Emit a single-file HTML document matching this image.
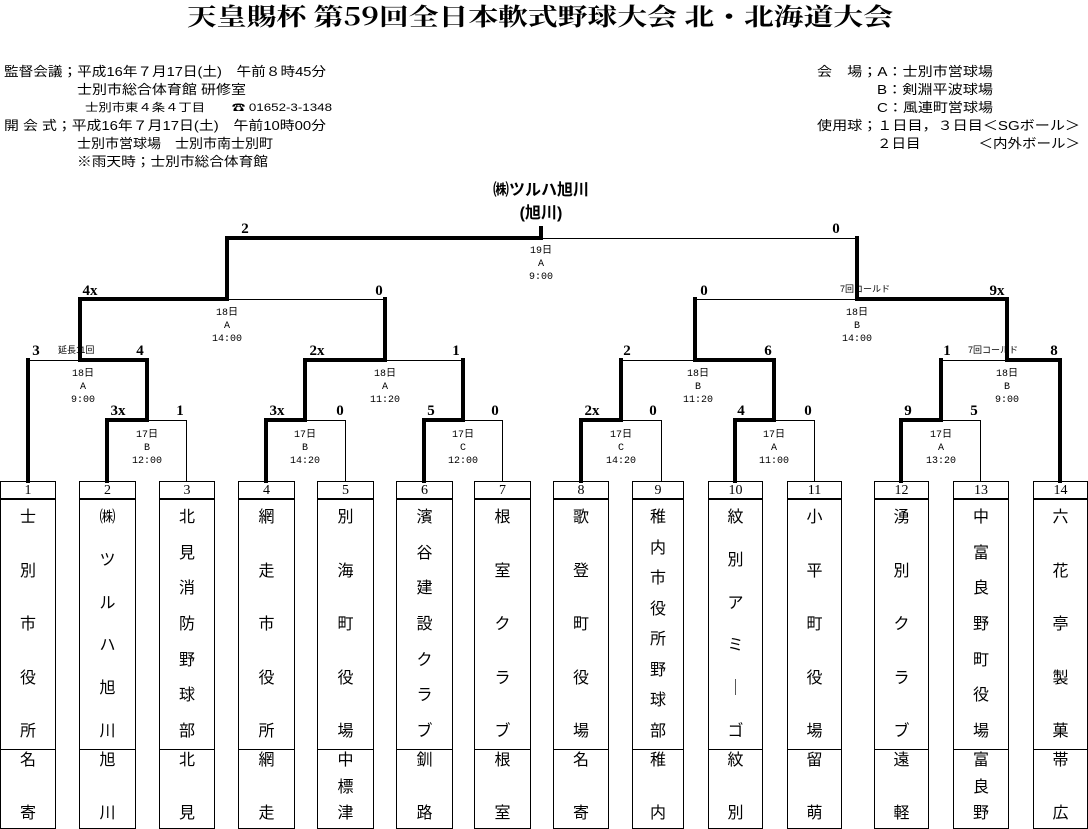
<!DOCTYPE html>
<html><head><meta charset="utf-8"><style>
html,body{margin:0;padding:0;background:#fff;}
body{width:1088px;height:829px;position:relative;overflow:hidden;font-family:"Liberation Sans","Noto Sans CJK JP",sans-serif;color:#000;}
svg{position:absolute;left:0;top:0;}
.col{position:absolute;border:1px solid #000;box-sizing:border-box;display:flex;flex-direction:column;justify-content:space-between;align-items:center;font-family:"Liberation Serif","Noto Sans CJK JP",sans-serif;font-size:16px;line-height:18px;}
.num{position:absolute;border:1px solid #000;box-sizing:border-box;text-align:center;font-family:"Liberation Serif","Noto Sans CJK JP",serif;font-size:14px;line-height:17px;height:19px;top:481px;}
.nm{top:498px;height:252px;padding:10px 0 8px;}
.bt{top:749px;height:80px;padding:2px 0 5px;}
</style></head><body>
<svg width="1088" height="829" xmlns="http://www.w3.org/2000/svg">
<g font-family="'Noto Serif CJK JP','Noto Sans CJK JP',serif" font-weight="bold">
<text x="187" y="25" font-size="24" textLength="706" lengthAdjust="spacingAndGlyphs">天皇賜杯 第59回全日本軟式野球大会 北・北海道大会</text>
</g>
<g font-family="'Liberation Sans','Noto Sans CJK JP',sans-serif" font-size="13">
<text x="4" y="76" textLength="322" lengthAdjust="spacingAndGlyphs">監督会議；平成16年７月17日(土)　午前８時45分</text>
<text x="77" y="94" textLength="169" lengthAdjust="spacingAndGlyphs">士別市総合体育館 研修室</text>
<text x="85" y="111" font-size="11" textLength="247" lengthAdjust="spacingAndGlyphs">士別市東４条４丁目　　☎ 01652-3-1348</text>
<text x="4" y="130" textLength="322" lengthAdjust="spacingAndGlyphs">開 会 式；平成16年７月17日(土)　午前10時00分</text>
<text x="77" y="148" textLength="196" lengthAdjust="spacingAndGlyphs">士別市営球場　士別市南士別町</text>
<text x="77" y="166" textLength="191" lengthAdjust="spacingAndGlyphs">※雨天時；士別市総合体育館</text>
<text x="817" y="76" textLength="176" lengthAdjust="spacingAndGlyphs">会　場；A：士別市営球場</text>
<text x="877" y="94" textLength="116" lengthAdjust="spacingAndGlyphs">B：剣淵平波球場</text>
<text x="877" y="112" textLength="116" lengthAdjust="spacingAndGlyphs">C：風連町営球場</text>
<text x="817" y="130" textLength="263" lengthAdjust="spacingAndGlyphs">使用球；１日目，３日目＜SGボール＞</text>
<text x="877" y="148" textLength="203" lengthAdjust="spacingAndGlyphs">２日目　　　　＜内外ボール＞</text>
</g>
<g font-family="'Liberation Sans','Noto Sans CJK JP',sans-serif" font-size="16" font-weight="bold" text-anchor="middle">
<text x="541" y="195">㈱ツルハ旭川</text>
<text x="541" y="218">(旭川)</text>
</g>
<g stroke="#000" stroke-width="1" fill="none" shape-rendering="crispEdges" transform="translate(0.5,0.5)">
<path d="M28 360H80 M147 420H186V481 M227 299H385 M305 420H345V481 M385 360H463 M463 420H502V481 M541 238H857 M621 420H661V481 M621 360H695 M695 299H856 M774 420H814V481 M941 360H1007 M941 420H980V481"/>
</g>
<g stroke="#000" stroke-width="4" fill="none" stroke-linecap="square" shape-rendering="crispEdges">
<path d="M28 360V481 M80 299V360H147V420H107V481"/>
<path d="M80 299H227V238H541V228 M227 238V299"/>
<path d="M385 299V360H305V420H266V481 M463 360V420H424V481"/>
<path d="M857 238V299H1007V360H1060V481"/>
<path d="M695 299V360H774V420H735V481 M621 360V420H581V481"/>
<path d="M941 360V420H901V481"/>
</g>
<g font-family="'Liberation Serif',serif" font-size="15" font-weight="bold" text-anchor="middle">
<text x="245" y="233">2</text><text x="836" y="233">0</text>
<text x="90" y="295">4x</text><text x="379" y="295">0</text>
<text x="704" y="295">0</text><text x="997" y="295">9x</text>
<text x="36" y="355">3</text><text x="140" y="355">4</text>
<text x="317" y="355">2x</text><text x="456" y="355">1</text>
<text x="627" y="355">2</text><text x="768" y="355">6</text>
<text x="947" y="355">1</text><text x="1054" y="355">8</text>
<text x="118" y="415">3x</text><text x="180" y="415">1</text>
<text x="277" y="415">3x</text><text x="340" y="415">0</text>
<text x="431" y="415">5</text><text x="495" y="415">0</text>
<text x="592" y="415">2x</text><text x="653" y="415">0</text>
<text x="741" y="415">4</text><text x="808" y="415">0</text>
<text x="908" y="415">9</text><text x="974" y="415">5</text>
</g>
<g font-family="'Liberation Sans','Noto Sans CJK JP',sans-serif" font-size="9">
<text x="58" y="353">延長11回</text>
<text x="840" y="292">7回コールド</text>
<text x="968" y="353">7回コールド</text>
</g>
<g font-family="'Liberation Mono','Noto Sans CJK JP',monospace" font-size="10" text-anchor="middle">
<text x="541" y="253">19日</text><text x="541" y="266">A</text><text x="541" y="279">9:00</text>
<text x="227" y="315">18日</text><text x="227" y="328">A</text><text x="227" y="341">14:00</text>
<text x="857" y="315">18日</text><text x="857" y="328">B</text><text x="857" y="341">14:00</text>
<text x="83" y="376">18日</text><text x="83" y="389">A</text><text x="83" y="402">9:00</text>
<text x="385" y="376">18日</text><text x="385" y="389">A</text><text x="385" y="402">11:20</text>
<text x="698" y="376">18日</text><text x="698" y="389">B</text><text x="698" y="402">11:20</text>
<text x="1007" y="376">18日</text><text x="1007" y="389">B</text><text x="1007" y="402">9:00</text>
<text x="147" y="437">17日</text><text x="147" y="450">B</text><text x="147" y="463">12:00</text>
<text x="305" y="437">17日</text><text x="305" y="450">B</text><text x="305" y="463">14:20</text>
<text x="463" y="437">17日</text><text x="463" y="450">C</text><text x="463" y="463">12:00</text>
<text x="621" y="437">17日</text><text x="621" y="450">C</text><text x="621" y="463">14:20</text>
<text x="774" y="437">17日</text><text x="774" y="450">A</text><text x="774" y="463">11:00</text>
<text x="941" y="437">17日</text><text x="941" y="450">A</text><text x="941" y="463">13:20</text>
</g>
</svg>

<div class="num" style="left:0;width:56px">1</div>
<div class="col nm" style="left:0;width:56px"><span>士</span><span>別</span><span>市</span><span>役</span><span>所</span></div>
<div class="col bt" style="left:0;width:56px"><span>名</span><span>寄</span></div>

<div class="num" style="left:79px;width:57px">2</div>
<div class="col nm" style="left:79px;width:57px"><span>㈱</span><span>ツ</span><span>ル</span><span>ハ</span><span>旭</span><span>川</span></div>
<div class="col bt" style="left:79px;width:57px"><span>旭</span><span>川</span></div>

<div class="num" style="left:159px;width:56px">3</div>
<div class="col nm" style="left:159px;width:56px"><span>北</span><span>見</span><span>消</span><span>防</span><span>野</span><span>球</span><span>部</span></div>
<div class="col bt" style="left:159px;width:56px"><span>北</span><span>見</span></div>

<div class="num" style="left:238px;width:57px">4</div>
<div class="col nm" style="left:238px;width:57px"><span>網</span><span>走</span><span>市</span><span>役</span><span>所</span></div>
<div class="col bt" style="left:238px;width:57px"><span>網</span><span>走</span></div>

<div class="num" style="left:317px;width:57px">5</div>
<div class="col nm" style="left:317px;width:57px"><span>別</span><span>海</span><span>町</span><span>役</span><span>場</span></div>
<div class="col bt" style="left:317px;width:57px"><span>中</span><span>標</span><span>津</span></div>

<div class="num" style="left:396px;width:57px">6</div>
<div class="col nm" style="left:396px;width:57px"><span>濱</span><span>谷</span><span>建</span><span>設</span><span>ク</span><span>ラ</span><span>ブ</span></div>
<div class="col bt" style="left:396px;width:57px"><span>釧</span><span>路</span></div>

<div class="num" style="left:474px;width:57px">7</div>
<div class="col nm" style="left:474px;width:57px"><span>根</span><span>室</span><span>ク</span><span>ラ</span><span>ブ</span></div>
<div class="col bt" style="left:474px;width:57px"><span>根</span><span>室</span></div>

<div class="num" style="left:553px;width:56px">8</div>
<div class="col nm" style="left:553px;width:56px"><span>歌</span><span>登</span><span>町</span><span>役</span><span>場</span></div>
<div class="col bt" style="left:553px;width:56px"><span>名</span><span>寄</span></div>

<div class="num" style="left:632px;width:52px">9</div>
<div class="col nm" style="left:632px;width:52px"><span>稚</span><span>内</span><span>市</span><span>役</span><span>所</span><span>野</span><span>球</span><span>部</span></div>
<div class="col bt" style="left:632px;width:52px"><span>稚</span><span>内</span></div>

<div class="num" style="left:708px;width:55px">10</div>
<div class="col nm" style="left:708px;width:55px"><span>紋</span><span>別</span><span>ア</span><span>ミ</span><span>｜</span><span>ゴ</span></div>
<div class="col bt" style="left:708px;width:55px"><span>紋</span><span>別</span></div>

<div class="num" style="left:787px;width:55px">11</div>
<div class="col nm" style="left:787px;width:55px"><span>小</span><span>平</span><span>町</span><span>役</span><span>場</span></div>
<div class="col bt" style="left:787px;width:55px"><span>留</span><span>萌</span></div>

<div class="num" style="left:874px;width:55px">12</div>
<div class="col nm" style="left:874px;width:55px"><span>湧</span><span>別</span><span>ク</span><span>ラ</span><span>ブ</span></div>
<div class="col bt" style="left:874px;width:55px"><span>遠</span><span>軽</span></div>

<div class="num" style="left:953px;width:56px">13</div>
<div class="col nm" style="left:953px;width:56px"><span>中</span><span>富</span><span>良</span><span>野</span><span>町</span><span>役</span><span>場</span></div>
<div class="col bt" style="left:953px;width:56px"><span>富</span><span>良</span><span>野</span></div>

<div class="num" style="left:1033px;width:55px">14</div>
<div class="col nm" style="left:1033px;width:55px"><span>六</span><span>花</span><span>亭</span><span>製</span><span>菓</span></div>
<div class="col bt" style="left:1033px;width:55px"><span>帯</span><span>広</span></div>
</body></html>
